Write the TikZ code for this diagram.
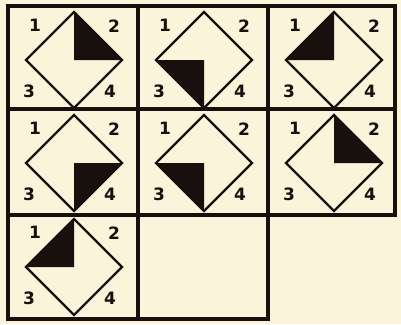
\documentclass[tikz,border=0pt]{standalone}
\usepackage{fontspec}
\setmainfont{DejaVu Sans}
\usetikzlibrary{shapes.geometric,calc}
\definecolor{paper}{RGB}{251,244,219}
\definecolor{ink}{RGB}{24,16,12}
\begin{document}
\begin{tikzpicture}[x=1pt,y=-1pt,
  gridline/.style={draw=ink,line width=3.2pt},
  dia/.style={diamond,draw=ink,line width=2.4pt,minimum width=96pt,minimum height=96pt,inner sep=0pt,outer sep=0pt,aspect=1},
  num/.style={font=\fontsize{17}{17}\selectfont\bfseries,text=ink,inner sep=0pt}]
\fill[paper] (0,0) rectangle (401,324);
\useasboundingbox (0,0) rectangle (401,324);
% grid
\draw[gridline] (8,6) rectangle (395,215);
\draw[gridline] (8,215) rectangle (268,319);
\draw[gridline] (8,109) -- (395,109);
\draw[gridline] (138,6) -- (138,319);
\draw[gridline] (268,6) -- (268,215);
% diamonds
\foreach \n/\x/\y/\p/\r in {a/74/60/north/east, b/204/60/west/south, c/334/60/north/west,
  d/74/163/east/south, e/204/163/west/south, f/334/163/north/east, g/74/267/north/west}{
  \node[dia] (\n) at (\x,\y) {};
  \fill[ink] (\n.\p) -- (\n.center) -- (\n.\r) -- cycle;
  \node[num] (\n1) at ($(\n.center)+(-39,-35)$) {1};
  \node[num] (\n2) at ($(\n.center)+(40,-34)$) {2};
  \node[num] (\n3) at ($(\n.center)+(-45,31)$) {3};
  \node[num] (\n4) at ($(\n.center)+(36,31)$) {4};
}
\end{tikzpicture}
\end{document}
